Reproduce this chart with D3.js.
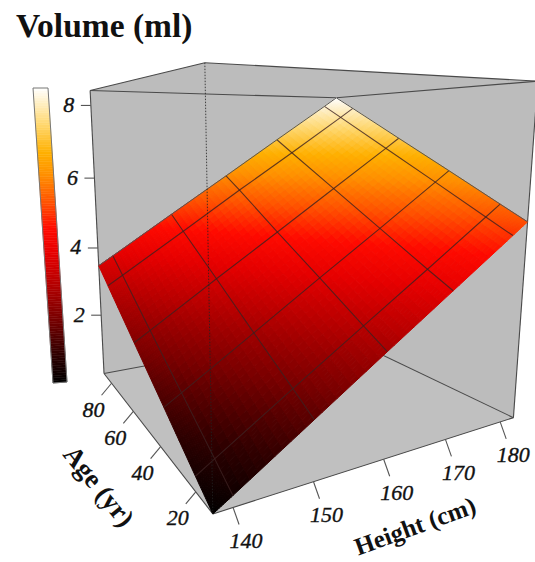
<!DOCTYPE html>
<html><head><meta charset="utf-8">
<script src="https://cdn.jsdelivr.net/npm/d3@7"></script>
<style>html,body{margin:0;background:#fff}svg{display:block}text{font-family:"Liberation Serif",serif}</style>
</head><body><svg id="c" width="535" height="562"></svg>
<script>
// ---- data ----
const heightGrid = [137.7,140,150,160,170,180,182.6];
const ageGrid = [12,20,37,57,79,88];
const volumes = [
 [0.20,0.45,1.56,2.67,3.77,4.87,5.16],
 [0.54,0.80,1.91,3.01,4.10,5.21,5.50],
 [1.28,1.53,2.63,3.74,4.83,5.94,6.23],
 [2.14,2.39,3.50,4.59,5.69,6.79,7.08],
 [3.09,3.34,4.44,5.55,6.63,7.73,8.02],
 [3.48,3.73,4.83,5.92,7.02,8.11,8.40]
];
const heightTicks = [140,150,160,170,180];
const ageTicks = [20,40,60,80];
const volumeTicks = [2,4,6,8];
const colorStops = [0.2,1,2,3,3.8,4.5,5.2,6,6.6,7.4,8.4];
const colorValues = ["#000000","#300000","#7a0000","#b80000","#e60000","#ff0a00","#ff5000","#ff9000","#ffb000","#ffd870","#ffffff"];
// camera calibration: cube corner (h,a,z in 0..1) -> where the reference shows it
const calibration = [
 [0,0,0,213,513],[1,0,0,517,418],[0,1,0,106,375],[1,1,0,328,330],
 [0,0,1,203,62],[1,0,1,535,82],[0,1,1,89,90],[1,1,1,340,98]
];
// ---- scales ----
const sx = d3.scaleLinear().domain([137.7,182.6]).range([0,1]);
const sy = d3.scaleLinear().domain([12,88]).range([0,1]);
const sz = d3.scaleLinear().domain([0.2,8.4]).range([0,1]);
const color = d3.scaleLinear().domain(colorStops).range(colorValues).clamp(true);
function fitCamera(pts){
  const rows=[],rhs=[];
  pts.forEach(([x,y,z,u,v])=>{
    rows.push([x,y,z,1,0,0,0,0,-u*x,-u*y,-u*z]);rhs.push(u);
    rows.push([0,0,0,0,x,y,z,1,-v*x,-v*y,-v*z]);rhs.push(v);
  });
  const n=11,M=d3.range(n).map(i=>d3.range(n+1).map(j=>{
    let s=0;rows.forEach((r,k)=>{s+=r[i]*(j<n?r[j]:rhs[k]);});return s;}));
  for(let i=0;i<n;i++){
    let p=i;for(let k=i+1;k<n;k++)if(Math.abs(M[k][i])>Math.abs(M[p][i]))p=k;
    [M[i],M[p]]=[M[p],M[i]];
    for(let k=0;k<n;k++){if(k===i)continue;const f=M[k][i]/M[i][i];
      for(let j=i;j<=n;j++)M[k][j]-=f*M[i][j];}
  }
  return M.map((r,i)=>r[n]/r[i]);
}
const P = fitCamera(calibration);
function cube(x,y,z){
  const w=P[8]*x+P[9]*y+P[10]*z+1;
  return [(P[0]*x+P[1]*y+P[2]*z+P[3])/w,(P[4]*x+P[5]*y+P[6]*z+P[7])/w];
}
const proj=(h,a,v)=>cube(sx(h),sy(a),sz(v));
const lerp=(a,b,t)=>a+(b-a)*t;

const svg=d3.select("#c");
const lastH=heightGrid.length-1,lastA=ageGrid.length-1;
const hL=heightGrid[0],hH=heightGrid[lastH],aL=ageGrid[0],aH=ageGrid[lastA];
const zL=sz.domain()[0],zH=sz.domain()[1];
const C={f0:proj(hL,aL,zL),f1:proj(hH,aL,zL),f2:proj(hL,aH,zL),f3:proj(hH,aH,zL),
         t0:proj(hL,aL,zH),t1:proj(hH,aL,zH),t2:proj(hL,aH,zH),t3:proj(hH,aH,zH)};
const line=d3.line();
const boxG=svg.append("g");
boxG.append("path").attr("d",line([C.t2,C.t0,C.t1,C.f1,C.f0,C.f2])+"Z").attr("fill","#bcbcbc");
boxG.append("path").attr("d",line([C.f0,C.f1,C.f3,C.f2])+"Z").attr("fill","#c0c0c0");
const edge=(a,b,g)=>g.append("path").attr("d",line([a,b])).attr("fill","none").attr("stroke","#4a4a4a").attr("stroke-width",1.1);
[[C.t2,C.t0],[C.t0,C.t1],[C.t2,C.t3],[C.t3,C.t1],[C.t2,C.f2],[C.t1,C.f1],[C.f2,C.f0],[C.f0,C.f1],[C.f2,C.f3],[C.f3,C.f1]]
  .forEach(([a,b])=>edge(a,b,boxG));

// surface
const N=10,surfG=svg.append("g");
function bil(i,j,s,t){
  const v=lerp(lerp(volumes[j][i],volumes[j][i+1],s),lerp(volumes[j+1][i],volumes[j+1][i+1],s),t);
  return [lerp(heightGrid[i],heightGrid[i+1],s),lerp(ageGrid[j],ageGrid[j+1],t),v];
}
const quads=[];
for(let j=0;j<lastA;j++)for(let i=0;i<lastH;i++)
 for(let a=0;a<N;a++)for(let b=0;b<N;b++){
  const c=[bil(i,j,a/N,b/N),bil(i,j,(a+1)/N,b/N),bil(i,j,(a+1)/N,(b+1)/N),bil(i,j,a/N,(b+1)/N)];
  quads.push({pts:c.map(p=>proj(...p)),v:d3.mean(c,p=>p[2])});
 }
surfG.selectAll("path").data(quads).join("path")
  .attr("d",d=>line(d.pts)+"Z").attr("fill",d=>color(d.v)).attr("stroke",d=>color(d.v)).attr("stroke-width",1);
const meshStyle=s=>s.attr("fill","none").attr("stroke","#3c2020").attr("stroke-opacity",0.8).attr("stroke-width",1.1);
heightGrid.forEach((h,i)=>{ if(i===0||i===lastH) return;
  svg.append("path").attr("d",line(ageGrid.map((a,j)=>proj(h,a,volumes[j][i])))).call(meshStyle);});
ageGrid.forEach((a,j)=>{ if(j===0||j===lastA) return;
  svg.append("path").attr("d",line(heightGrid.map((h,i)=>proj(h,a,volumes[j][i])))).call(meshStyle);});
const rimStyle=s=>s.attr("fill","none").attr("stroke","#555").attr("stroke-width",1);
svg.append("path").attr("d",line(heightGrid.map((h,i)=>proj(h,aH,volumes[lastA][i])))).call(rimStyle);
svg.append("path").attr("d",line(ageGrid.map((a,j)=>proj(hH,a,volumes[j][lastH])))).call(rimStyle);
svg.append("path").attr("d",line([C.t0,C.f0])).attr("fill","none").attr("stroke","#222").attr("stroke-width",1).attr("stroke-dasharray","1.5,1.5").attr("stroke-opacity",0.8);

// ticks + labels
const tickG=svg.append("g");
const tickLine=(p,d)=>tickG.append("path").attr("d",line([p,[p[0]+d[0],p[1]+d[1]]])).attr("stroke","#555").attr("stroke-width",1.1).attr("fill","none");
const label=(p,d,t)=>tickG.append("text").attr("x",p[0]+d[0]).attr("y",p[1]+d[1]).attr("text-anchor","middle").attr("dominant-baseline","central")
   .attr("font-size",22).attr("font-style","italic").attr("fill","#111").attr("stroke","#111").attr("stroke-width",0.35).text(t);
heightTicks.forEach(h=>{const p=proj(h,aL,zL);tickLine(p,[6,17]);label(p,[13,33],h);});
ageTicks.forEach(a=>{const p=proj(hL,a,zL);tickLine(p,[-10,12]);label(p,[-18,26],a);});
volumeTicks.forEach(v=>{const p=proj(hL,aH,v);tickLine(p,[-10,0]);label(p,[-22,-1],v);});

// titles
svg.append("text").attr("x",16).attr("y",37).attr("font-size",33.5).attr("font-weight","bold").attr("fill","#111").text("Volume (ml)");
svg.append("text").attr("transform","translate(99,486) rotate(51)").attr("text-anchor","middle").attr("dominant-baseline","central")
  .attr("font-size",27).attr("font-weight","bold").attr("fill","#111").text("Age (yr)");
svg.append("text").attr("transform","translate(415,526) rotate(-20)").attr("text-anchor","middle").attr("dominant-baseline","central")
  .attr("font-size",25).attr("font-weight","bold").attr("fill","#111").text("Height (cm)");

// colour bar (slanted like the reference)
const barTL=[33,88],barTR=[48,88],barBL=[53,383],barBR=[67,382];
const barT=d3.scaleLinear().domain(sz.domain()).range([1,0]);
const barLevels=d3.range(121).map(i=>zL+(zH-zL)*i/120);
const barPt=(v,side)=>{const t=barT(v);const a=side?barTR:barTL,b=side?barBR:barBL;return [lerp(a[0],b[0],t),lerp(a[1],b[1],t)];};
const barG=svg.append("g");
barG.selectAll("path").data(barLevels.slice(1)).join("path")
  .attr("d",(v,i)=>line([barPt(barLevels[i],0),barPt(barLevels[i],1),barPt(v,1),barPt(v,0)])+"Z")
  .attr("fill",(v,i)=>color((v+barLevels[i])/2)).attr("stroke",(v,i)=>color((v+barLevels[i])/2)).attr("stroke-width",0.5);
barG.append("path").attr("d",line([barTL,barTR,barBR,barBL])+"Z").attr("fill","none").attr("stroke","#777").attr("stroke-width",1);
</script></body></html>
